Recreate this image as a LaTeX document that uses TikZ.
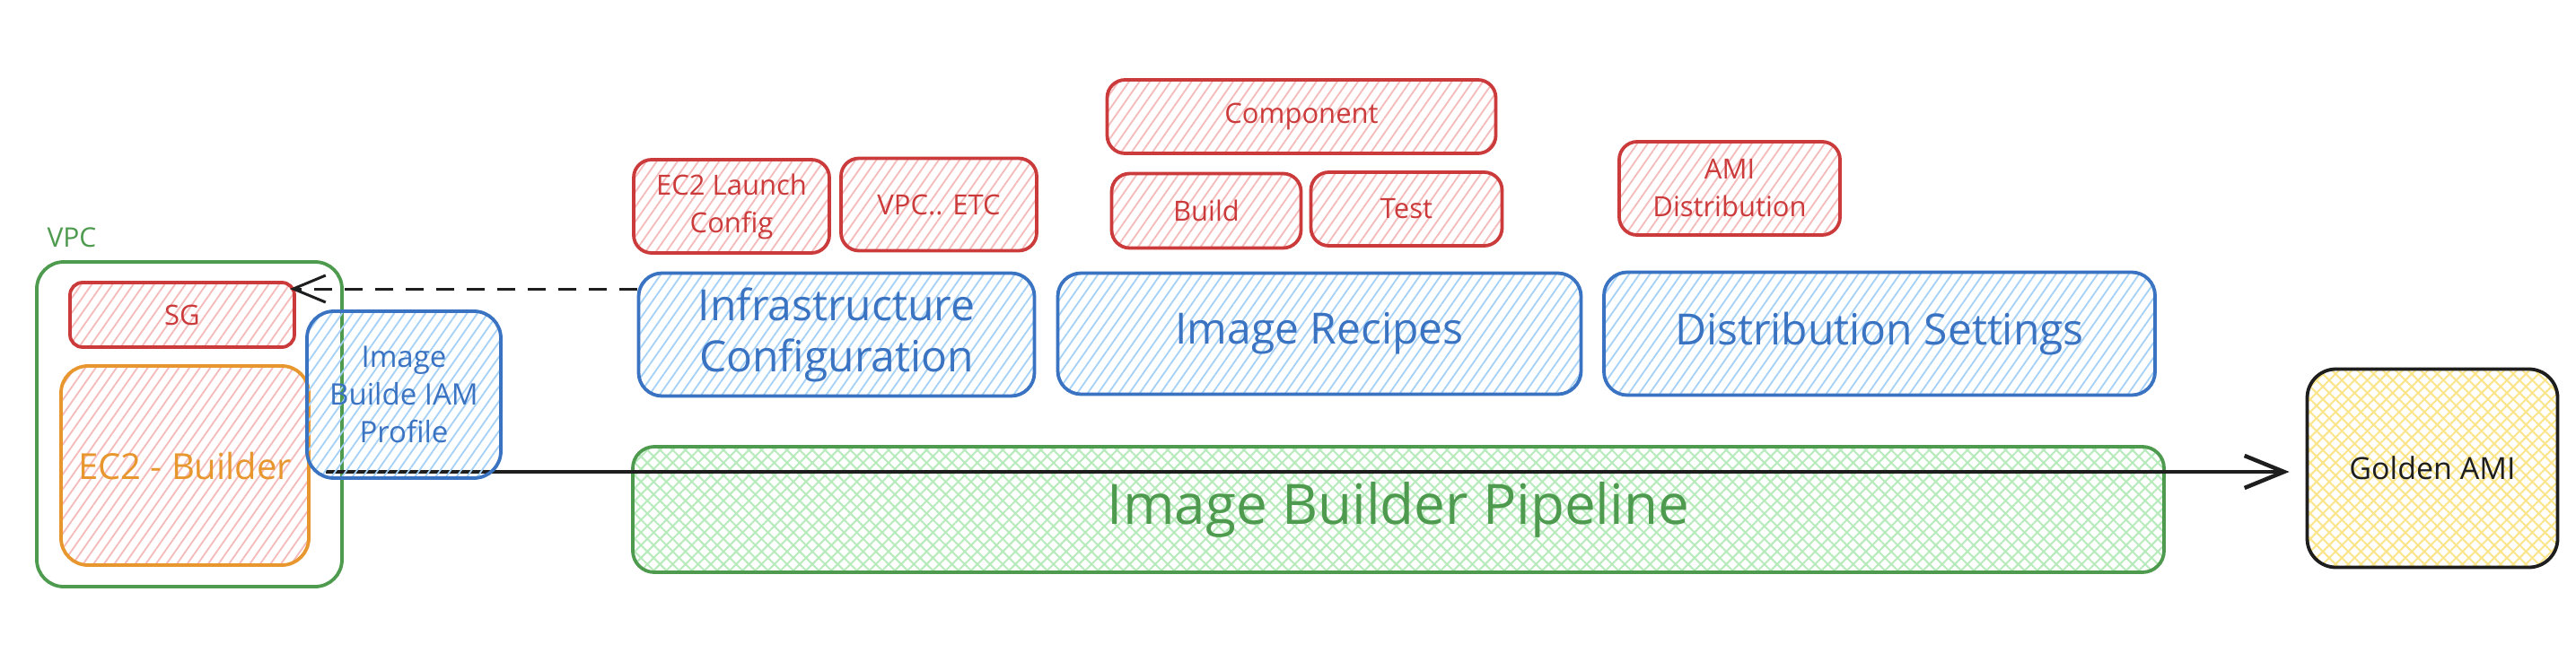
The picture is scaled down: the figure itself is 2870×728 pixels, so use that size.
\documentclass[tikz,border=0pt]{standalone}
\usepackage{fontspec}
\setmainfont{Open Sans}
\usetikzlibrary{patterns.meta,arrows.meta}
\definecolor{redS}{HTML}{CC3B3B}
\definecolor{redF}{HTML}{F5BABA}
\definecolor{blueS}{HTML}{3A73C1}
\definecolor{blueF}{HTML}{A5D1F7}
\definecolor{greenS}{HTML}{4E9B4F}
\definecolor{greenF}{HTML}{B8EBBC}
\definecolor{orangeS}{HTML}{E8962E}
\definecolor{yellowF}{HTML}{FBE58A}
\definecolor{inkS}{HTML}{1E1E1E}
\tikzset{
  box/.style={draw, line width=3.8pt, rounded corners=22pt, inner sep=0pt, align=center},
  hach/.style={pattern={Lines[angle=55,distance=9.5pt,line width=1.8pt]}, pattern color=#1},
  xhach/.style={preaction={pattern={Lines[angle=45,distance=10pt,line width=2pt]}, pattern color=#1},
                pattern={Lines[angle=135,distance=10pt,line width=2pt]}, pattern color=#1},
  redbox/.style={box, draw=redS, text=redS, hach=redF, font=\fontsize{31}{42}\selectfont},
  bluebox/.style={box, draw=blueS, text=blueS, hach=blueF, font=\fontsize{48}{57}\selectfont},
  solidarr/.style={draw=inkS, line width=4.5pt, -{Straight Barb[length=44pt,width=36pt]}},
  dasharr/.style={draw=inkS, line width=3pt, dash pattern=on 20pt off 14pt, -{Straight Barb[length=36pt,width=30pt,line width=3pt]}}
}
\begin{document}
\begin{tikzpicture}[x=1pt,y=-1pt]
\useasboundingbox[fill=white] (0,0) rectangle (2870,728);
% VPC group
\node[box, draw=greenS, rounded corners=30pt, minimum width=340pt, minimum height=362pt] (vpc) at (211,473) {};
\node[text=greenS, font=\fontsize{30}{36}\selectfont, inner sep=0pt] (vpclbl) at (80,265) {VPC};
\node[redbox, rounded corners=14pt, minimum width=250pt, minimum height=72pt] (sg) at (203,351) {SG};
\node[box, draw=orangeS, text=orangeS, hach=redF, rounded corners=30pt, font=\fontsize{40}{48}\selectfont,
      minimum width=276pt, minimum height=222pt] (ec2) at (206,519) {EC2 - Builder};
% pipeline and target
\node[box, draw=greenS, text=greenS, xhach=greenF, rounded corners=24pt, font=\fontsize{62}{72}\selectfont,
      minimum width=1706pt, minimum height=140pt] (pipe) at (1558,568) {Image Builder Pipeline};
\node[box, draw=inkS, text=inkS, xhach=yellowF, rounded corners=32pt, font=\fontsize{34}{40}\selectfont,
      minimum width=279pt, minimum height=221pt] (golden) at (2710,522) {Golden AMI};
\coordinate (arrstart) at (363,526);
\draw[solidarr, shorten >=18pt] (arrstart) -- (golden.west |- arrstart);
\node[bluebox, rounded corners=30pt, font=\fontsize{33}{42}\selectfont, minimum width=216pt, minimum height=186pt] (iam) at (450,440) {Image\\Builde IAM\\Profile};
% top row
\node[redbox, rounded corners=20pt, minimum width=218pt, minimum height=104pt] (launch) at (815,230) {EC2 Launch\\Config};
\node[redbox, rounded corners=20pt, minimum width=218pt, minimum height=103pt] (vpcetc) at (1046,228) {VPC.. ETC};
\node[redbox, rounded corners=20pt, minimum width=433pt, minimum height=82pt] (comp) at (1450,130) {Component};
\node[redbox, rounded corners=20pt, minimum width=211pt, minimum height=83pt] (build) at (1344,235) {Build};
\node[redbox, rounded corners=20pt, minimum width=213pt, minimum height=82pt] (test) at (1567,233) {Test};
\node[redbox, rounded corners=20pt, minimum width=246pt, minimum height=104pt] (amid) at (1927,210) {AMI\\Distribution};
% blue row
\node[bluebox, rounded corners=26pt, minimum width=441pt, minimum height=137pt] (infra) at (932,373) {Infrastructure\\Configuration};
\node[bluebox, rounded corners=26pt, minimum width=583pt, minimum height=135pt] (recipes) at (1470,372) {Image Recipes};
\node[bluebox, rounded corners=26pt, minimum width=614pt, minimum height=137pt] (dist) at (2094,372) {Distribution Settings};
% dashed connector
\coordinate (dashy) at (0,322);
\draw[dasharr, shorten >=-6pt] (infra.west |- dashy) -- (sg.east |- dashy);
\end{tikzpicture}
\end{document}
